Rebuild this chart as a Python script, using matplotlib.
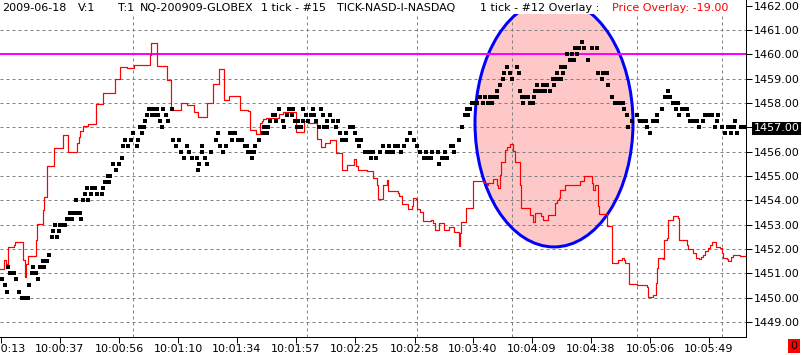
import matplotlib
matplotlib.use("Agg")
import matplotlib.pyplot as plt
from matplotlib.patches import Ellipse, Rectangle

# ---------------- data ----------------
# x positions are bar positions along the tick axis (0..746)
time_tick_pos = [1, 60, 119, 178, 237, 296, 355, 415, 473, 532, 591, 650, 709]
time_labels = ["10:00:13", "10:00:37", "10:00:56", "10:01:10", "10:01:34", "10:01:57",
               "10:02:25", "10:02:58", "10:03:40", "10:04:09", "10:04:38", "10:05:06", "10:05:49"]
vgrid_pos = [133, 307, 417, 512, 637, 722]
price_ticks = list(range(1449, 1463))
alert_price = 1460.0
last_price = 1457.0
price_overlay = -19.00

# NQ price ticks (black)
nq_x = [1.7, 5, 6.7, 8.3, 10, 11.7, 14, 15.7, 19, 21.7, 24, 26.7, 28.3, 29.3, 31.7, 36, 33.3,
        38.3, 40, 44.3, 42.7, 46.7, 49, 51.7, 57.3, 53.3, 59.3, 55, 60, 62.7, 65,
        66.7, 69, 71.7, 81, 70, 72.7, 75, 78, 80.5, 76, 83.3, 88.3, 85, 90.7, 96.7, 101.7,
        87.3, 91.7, 95, 103.3, 105, 109.3, 108.3, 110, 116, 112.7, 119.3, 121.7,
        123.3, 127.7, 136.7, 125, 131, 138.3, 133.3, 141.7, 140, 144.3, 145,
        147.3, 151.7, 155, 158.3, 165.7, 149.3, 153.3, 156.7, 163.3, 171.7, 160, 168.3, 161.7,
        173.3, 179, 176, 181, 189, 184, 191.7, 196.7, 205, 186.7, 199.3, 206.7, 197.7, 202.3,
        201.7, 210.7, 216, 218.3, 220, 225.7, 222.7, 230, 233.3, 235, 231.7, 238.3,
        241.7, 245, 247, 255, 248.3, 250, 253.7, 252.3, 259, 262.7, 267.3, 264.3, 268.3,
        270, 276, 282.7, 273.3, 275, 279.3, 289.3, 292.7, 284, 286.7, 291.7, 295, 298.3, 302.7,
        296.7, 300.7, 303.3, 312.7, 321, 306, 310.7, 314, 322.7, 330, 308.3, 316, 326.7, 332.7,
        338.3, 319, 324, 327.3, 336, 350, 353.3, 340, 346, 355, 341.7, 346.5, 357.3, 361, 359.3,
        365, 367.3, 370, 373.3, 380, 386.7, 389.3, 393.3, 401, 370.7, 376, 382.7, 389, 395,
        398.3, 404, 406.7, 414, 410, 416.7, 420, 426, 431.7, 437.7, 445, 454.3, 424.3, 428.3,
        431, 441.7, 444.5, 446.7, 439.3, 450.7, 453.3, 459.3, 461.7, 465, 468.3, 466.7, 470,
        471.7, 474, 476.7, 483.3, 488.3, 492.3, 480, 485, 490, 494.3, 496.7, 497.5, 500, 502.7,
        504.3, 510, 519, 506.7, 516.7, 512.3, 520, 521.7, 525, 528.3, 534, 523.3, 530, 533.3,
        535, 538.3, 541.7, 545, 550, 537.3, 542.7, 547.3, 554.3, 552.7, 556.7, 561, 557.3, 563.3,
        560.7, 565, 566.7, 571.7, 576.7, 570, 574, 588.3, 575, 579.3, 584.3, 591.7, 596.7, 581.7,
        598.3, 603.3, 606.7, 601.7, 608.3, 611.7, 615, 618.3, 621.7, 623.3, 624.3, 626.7, 628.3,
        631.7, 640, 643.3, 646, 652.7, 656.7, 636.7, 657.5, 646.7, 650, 661.7, 665, 668.3, 670,
        668.5, 673.3, 676.7, 678.3, 676, 681.7, 685, 686.7, 679.3, 688.3, 705, 708.3, 711.7,
        718.3, 690, 694, 696.7, 703.3, 717.3, 735, 699.3, 715, 721.7, 728.3, 731.7, 734.3,
        725, 731, 737.3, 741, 744]
nq_p = [1450.75, 1450.5, 1450.25, 1451.25, 1451.0, 1451.0, 1451.0, 1450.75, 1450.25, 1450.0,
        1450.0, 1450.0, 1450.0, 1450.5, 1451.0, 1451.0, 1451.25,
        1450.75, 1451.25, 1451.25, 1451.5, 1451.5, 1451.75, 1452.5, 1452.5, 1452.75, 1452.75,
        1453.0, 1453.0, 1453.0, 1453.0,
        1453.25, 1453.25, 1453.25, 1453.25, 1453.5, 1453.5, 1453.5, 1453.5, 1453.5, 1454.0,
        1454.0, 1454.0, 1454.25, 1454.25, 1454.25, 1454.25,
        1454.5, 1454.5, 1454.5, 1454.5, 1454.75, 1454.75, 1455.0, 1455.0, 1455.25, 1455.5,
        1455.5, 1455.75,
        1456.25, 1456.25, 1456.25, 1456.5, 1456.5, 1456.5, 1456.75, 1456.75, 1457.0, 1457.0,
        1457.25,
        1457.5, 1457.5, 1457.5, 1457.5, 1457.5, 1457.75, 1457.75, 1457.75, 1457.75, 1457.75,
        1457.25, 1457.25, 1457.0,
        1456.5, 1456.5, 1456.25, 1456.0, 1456.0, 1455.75, 1455.75, 1455.75, 1455.75, 1456.25,
        1455.5, 1455.5, 1455.25, 1456.25,
        1456.0, 1456.0, 1456.5, 1456.75, 1456.25, 1456.25, 1456.0, 1456.75, 1456.75, 1456.75,
        1456.5, 1456.5,
        1456.5, 1456.25, 1456.25, 1456.25, 1456.0, 1456.0, 1456.0, 1455.75, 1456.5, 1456.75,
        1456.75, 1457.0, 1457.0,
        1457.25, 1457.25, 1457.25, 1457.5, 1457.5, 1457.75, 1457.75, 1457.75, 1457.0, 1457.5,
        1457.5, 1457.25, 1457.25, 1457.25,
        1457.0, 1457.0, 1457.75, 1457.75, 1457.75, 1457.5, 1457.5, 1457.5, 1457.5, 1457.5,
        1457.25, 1457.25, 1457.25, 1457.25,
        1457.25, 1457.0, 1457.0, 1457.0, 1457.0, 1457.0, 1457.0, 1456.75, 1456.75, 1456.75,
        1456.5, 1456.5, 1456.5, 1456.5, 1456.25,
        1456.0, 1456.0, 1456.0, 1456.0, 1456.0, 1456.0, 1456.0, 1456.0, 1456.0, 1455.75,
        1455.75, 1456.25, 1456.25, 1456.25,
        1456.25, 1456.25, 1456.5, 1456.5, 1456.75, 1456.25, 1456.0, 1456.0, 1456.0, 1456.0,
        1456.0, 1456.0, 1455.75, 1455.75,
        1455.75, 1455.75, 1455.75, 1455.75, 1455.5, 1456.25, 1456.25, 1456.5, 1457.0, 1457.5,
        1457.5, 1457.75, 1457.75,
        1458.0, 1458.0, 1458.0, 1458.0, 1458.0, 1458.0, 1458.25, 1458.25, 1458.25, 1458.25,
        1458.25, 1458.5, 1458.75, 1459.0,
        1459.25, 1459.25, 1459.25, 1459.5, 1459.5, 1459.0, 1458.5, 1458.25, 1458.25, 1458.25,
        1458.25, 1458.0, 1458.0, 1458.0,
        1458.5, 1458.5, 1458.5, 1458.5, 1458.5, 1458.75, 1458.75, 1458.75, 1458.75, 1459.0,
        1459.0, 1459.0, 1459.25, 1459.25,
        1459.5, 1459.5, 1460.0, 1460.0, 1460.0, 1459.75, 1459.75, 1459.75, 1460.25, 1460.25,
        1460.25, 1460.25, 1460.25, 1460.5,
        1459.25, 1459.25, 1459.25, 1459.0, 1458.75, 1458.25, 1458.0, 1458.0, 1458.0, 1458.0,
        1457.75, 1457.5, 1457.0,
        1457.25, 1457.25, 1457.25, 1457.25, 1457.25, 1457.25, 1457.5, 1457.5, 1457.0, 1456.75,
        1457.75, 1458.25, 1458.25, 1458.25,
        1458.5, 1458.0, 1458.0, 1458.0, 1457.75, 1457.75, 1457.75, 1457.75, 1457.5, 1457.5,
        1457.5, 1457.5, 1457.5,
        1457.5, 1457.25, 1457.25, 1457.25, 1457.25, 1457.25, 1457.25, 1457.0, 1457.0, 1457.0,
        1457.0, 1457.0, 1457.0,
        1456.75, 1456.75, 1456.75, 1457.0, 1457.0]

# TICK-NASD overlay (red step line, already shifted by the overlay offset)
tick_x = [0, 4, 6, 8.3, 14, 15, 23.3, 25, 26, 28.3, 36, 37.3, 42.7, 44.3, 47.3, 54, 63, 67.7,
          76.7, 79, 80, 82.7, 88.3, 96, 102.7, 115, 120, 126.7, 134, 150, 150.7, 157.3, 166.7,
          171, 181, 187, 194.3, 198.3, 207.3, 213.3, 219, 224, 229, 240, 248.3, 250, 256, 260,
          261.7, 263.3, 266, 279.3, 283.3, 296, 304, 308.3, 317.3, 320.7, 325, 328.3, 330,
          335.7, 340, 341.7, 347.3, 354.3, 356, 358.3, 366.7, 373.3, 376.7, 378.3, 383.3, 386,
          386.7, 388.3, 398.3, 399.3, 401.7, 406.7, 408.3, 411.7, 412.7, 416, 416.7, 420, 422.7,
          423.3, 430.7, 432.7, 435, 439.3, 444, 449.3, 454.3, 459.3, 460, 460.7, 465.7, 472.7,
          484, 486.7, 488.3, 493.3, 496.7, 497.7, 500, 500.7, 505, 506.7, 510, 513.3, 515, 520,
          520.7, 530, 532.7, 535, 541, 543.3, 548.3, 555, 556.7, 559.3, 560, 565, 580, 584.3,
          591.7, 592.7, 595, 598.3, 599, 606.7, 612.3, 617.7, 622.3, 624.3, 625, 628.3, 629.3,
          637.3, 643.3, 647.3, 648.3, 653.3, 656, 657.3, 658.3, 662.7, 664, 666.7, 668.3, 673.3,
          678.3, 679.3, 686.7, 687.7, 693.3, 696, 699.3, 700.7, 702.7, 705, 708.3, 710, 711.7,
          716, 720, 721.7, 723.3, 726.7, 728.3, 730.7, 733.3, 740, 746]
tick_p = [1451.19, 1451.53, 1451.40, 1452.08, 1452.15, 1452.29, 1451.56, 1450.85, 1451.40,
          1451.70, 1452.39, 1453.04, 1453.60, 1454.14, 1455.43, 1456.17, 1456.68, 1455.98,
          1456.36, 1456.61, 1456.86, 1457.05, 1457.12, 1457.95, 1458.42, 1458.97, 1459.46,
          1459.42, 1459.55, 1459.97, 1460.48, 1459.52, 1458.94, 1457.70, 1458.00, 1457.90,
          1457.64, 1457.41, 1458.00, 1458.80, 1459.38, 1458.12, 1458.30, 1457.72, 1457.67,
          1456.91, 1456.71, 1457.19, 1457.26, 1457.33, 1457.40, 1457.56, 1457.64, 1456.81,
          1457.26, 1457.19, 1456.53, 1456.20, 1456.34, 1456.37, 1456.50, 1455.95, 1455.93,
          1455.23, 1455.47, 1455.68, 1455.41, 1455.23, 1455.19, 1454.90, 1454.62, 1454.06,
          1454.62, 1454.65, 1454.83, 1454.38, 1454.31, 1454.17, 1453.86, 1453.83, 1453.65,
          1453.76, 1454.10, 1454.06, 1453.65, 1453.51, 1453.49, 1453.14, 1453.21, 1453.07,
          1452.80, 1453.07, 1452.80, 1452.90, 1452.70, 1452.14, 1452.66, 1453.10, 1453.70,
          1454.78, 1454.71, 1454.64, 1454.71, 1454.87, 1454.64, 1454.50, 1455.05, 1455.56,
          1456.08, 1456.19, 1456.33, 1456.01, 1455.56, 1454.61, 1453.68, 1453.40, 1453.13,
          1453.50, 1453.34, 1453.20, 1453.40, 1453.89, 1454.02, 1454.09, 1454.43, 1454.64,
          1454.78, 1455.01, 1454.71, 1454.43, 1454.64, 1453.75, 1453.45, 1452.95, 1451.44,
          1451.55, 1451.62, 1451.55, 1451.44, 1451.41, 1450.56, 1450.52, 1450.52, 1450.45,
          1450.04, 1450.11, 1450.59, 1451.21, 1451.62, 1451.58, 1452.37, 1452.44, 1453.20,
          1453.36, 1453.27, 1452.37, 1452.17, 1451.99, 1451.82, 1451.62, 1451.58, 1451.69,
          1451.76, 1451.93, 1452.03, 1452.17, 1452.30, 1452.10, 1452.03, 1451.82, 1451.62,
          1451.58, 1451.52, 1451.66, 1451.76, 1451.71, 1451.80]

header_parts = [("2009-06-18", 2, "black"), ("V:1", 78, "black"), ("T:1", 118, "black"),
                ("NQ-200909-GLOBEX", 140, "black"), ("1 tick - #15", 261, "black"),
                ("TICK-NASD-I-NASDAQ", 337, "black"), ("1 tick - #12 Overlay :", 480, "black"),
                (f"Price Overlay: {price_overlay:.2f}", 612, "red")]

# highlight ellipse (center x, center price, width in bars, height in price)
ell_cx, ell_cy, ell_w, ell_h = 554, 1457.18, 158, 10.19

# ---------------- figure ----------------
W, H = 803, 355
plt.rcParams['font.family'] = ['DejaVu Sans']
plt.rcParams['font.size'] = 8
fig = plt.figure(figsize=(W / 100, H / 100), dpi=100)
fig.patch.set_facecolor('white')
ax = fig.add_axes([0, 18 / H, 746 / W, 337 / H])
ax.set_xlim(0, 746)
ax.set_ylim(1448.383, 1462.234)

px = 0.72
ax.add_patch(Ellipse((ell_cx, ell_cy), ell_w, ell_h, facecolor='#FFC8C8', edgecolor='none', zorder=0.5))
ax.add_patch(Ellipse((ell_cx, ell_cy), ell_w, ell_h, facecolor='none', edgecolor='#0000FF',
                     lw=3 * px, zorder=1.5))

for p in price_ticks:
    ax.axhline(p, color='#808080', lw=px, ls=(0, (3, 3)), zorder=1)
for xv in vgrid_pos:
    ax.axvline(xv, color='#808080', lw=px, ls=(0, (3, 3)), zorder=1)

ax.axhline(alert_price, color='#FF00FF', lw=2 * px, zorder=2)

ax.plot(tick_x, tick_p, drawstyle='steps-post', color='#FF0000', lw=1.2 * px, zorder=2.5)
ax.plot(nq_x, nq_p, ls='none', marker='s', ms=2.2, mew=0, color='black', zorder=3)

# axes styling
for s in ['left', 'top']:
    ax.spines[s].set_visible(False)
ax.spines['right'].set_linewidth(px)
ax.spines['bottom'].set_linewidth(px)
ax.yaxis.tick_right()
ax.set_yticks(price_ticks, [f"{p:.2f}" for p in price_ticks])
ax.set_xticks(time_tick_pos, time_labels)
ax.tick_params(axis='y', length=4, width=px, pad=1.5, labelsize=8)
ax.tick_params(axis='x', length=4, width=px, pad=1.0, labelsize=8)
ax.set_facecolor('white')

for lab, p in zip(ax.get_yticklabels(), price_ticks):
    if p == last_price:
        lab.set_color('white')
        lab.set_bbox(dict(facecolor='black', edgecolor='none', pad=1.2))

# header band
ax.add_patch(Rectangle((0, 1 - 13.5 / 337), 1, 13.5 / 337, transform=ax.transAxes,
                       facecolor='white', edgecolor='none', zorder=5))
for txt, xpix, col in header_parts:
    fig.text(xpix / W, (H - 11) / H, txt, color=col, fontsize=8, va='baseline', ha='left', zorder=6)

# red box bottom right
fig.text(794 / W, (H - 346) / H, "0", color='black', fontsize=8, ha='center', va='center',
         bbox=dict(facecolor='#FF0000', edgecolor='none', pad=1.5))

fig.savefig("out.png", dpi=100, facecolor='white')
